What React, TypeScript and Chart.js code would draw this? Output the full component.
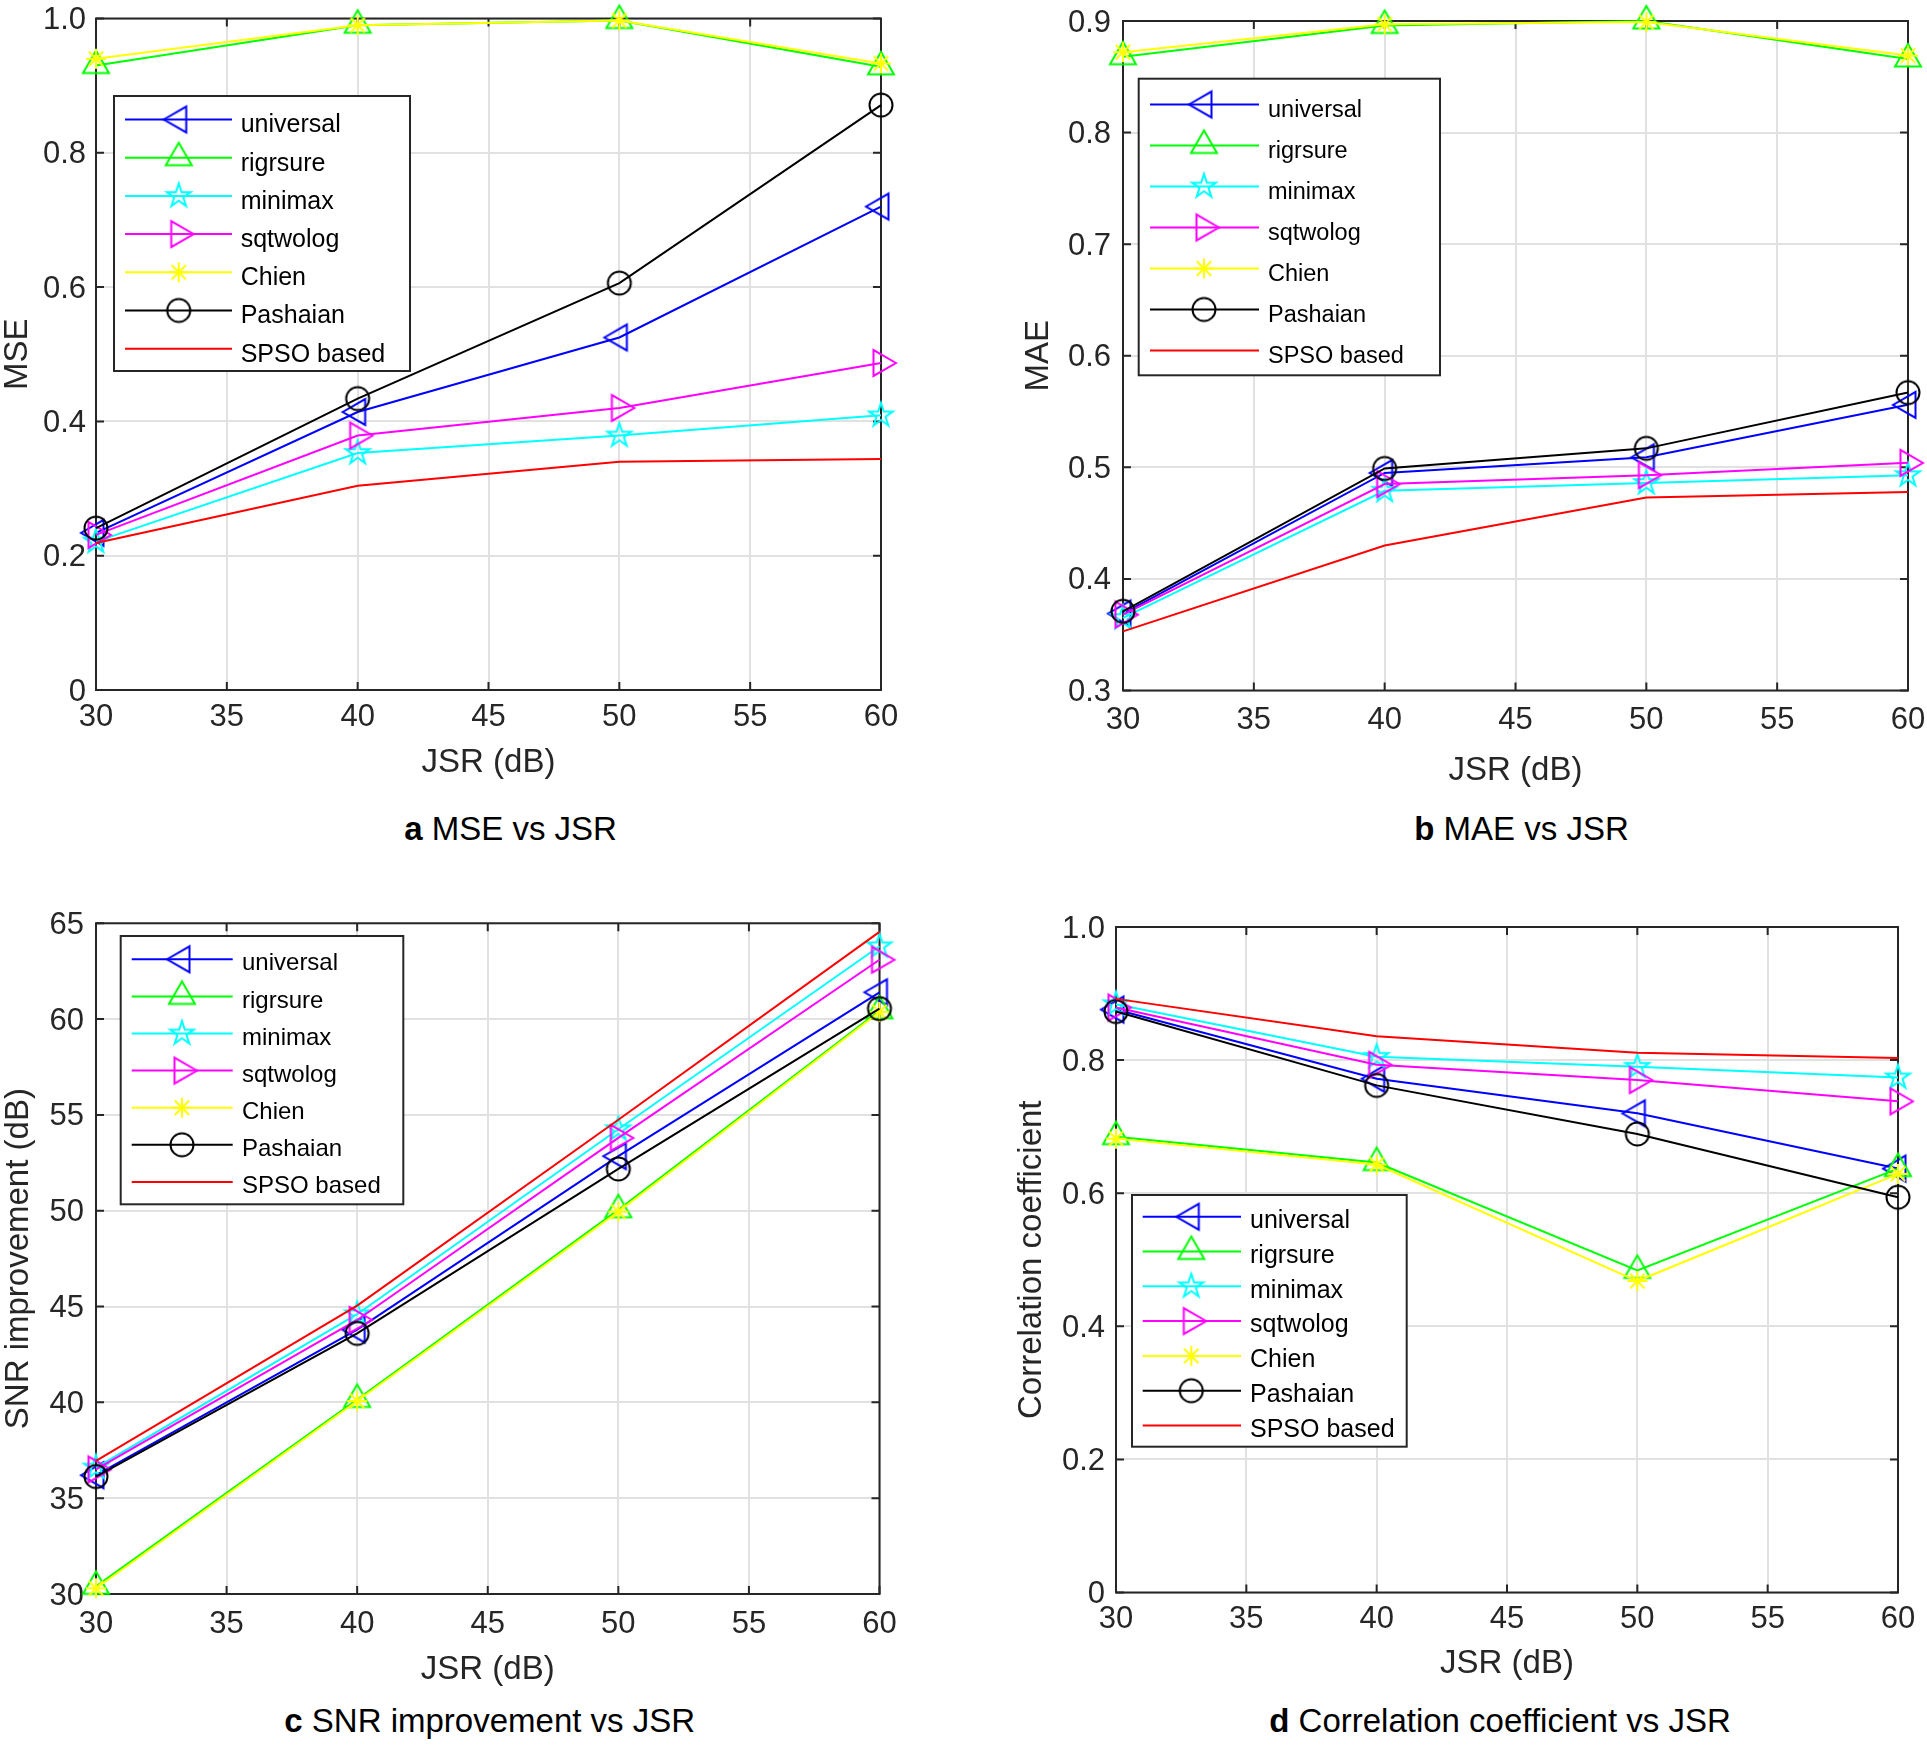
import React, { useEffect, useRef } from 'react';
import { Chart, registerables } from 'chart.js';

Chart.register(...registerables);

// ---------------- data ----------------
const jsr = [30, 40, 50, 60];
const jsrTicks = [30, 35, 40, 45, 50, 55, 60];
const jsrTickLabels = ['30', '35', '40', '45', '50', '55', '60'];

const seriesNames = ['universal', 'rigrsure', 'minimax', 'sqtwolog', 'Chien', 'Pashaian', 'SPSO based'];
const seriesColors = ['#0000ff', '#00ff00', '#00ffff', '#ff00ff', '#ffff00', '#000000', '#ff0000'];
const seriesMarkers = ['triLeft', 'triUp', 'pentagram', 'triRight', 'asterisk', 'circle', 'none'];

// (a) MSE
const mseUniversal = [0.234, 0.414, 0.525, 0.72];
const mseRigrsure = [0.93, 0.99, 0.997, 0.928];
const mseMinimax = [0.221, 0.353, 0.379, 0.409];
const mseSqtwolog = [0.231, 0.379, 0.42, 0.487];
const mseChien = [0.94, 0.99, 0.997, 0.933];
const msePashaian = [0.241, 0.434, 0.606, 0.871];
const mseSpso = [0.219, 0.304, 0.34, 0.344];
const mseTicks = [0, 0.2, 0.4, 0.6, 0.8, 1.0];
const mseTickLabels = ['0', '0.2', '0.4', '0.6', '0.8', '1.0'];

// (b) MAE
const maeUniversal = [0.369, 0.495, 0.509, 0.556];
const maeRigrsure = [0.868, 0.896, 0.9, 0.866];
const maeMinimax = [0.365, 0.479, 0.486, 0.493];
const maeSqtwolog = [0.368, 0.485, 0.493, 0.504];
const maeChien = [0.872, 0.897, 0.899, 0.869];
const maePashaian = [0.371, 0.499, 0.517, 0.567];
const maeSpso = [0.353, 0.43, 0.473, 0.478];
const maeTicks = [0.3, 0.4, 0.5, 0.6, 0.7, 0.8, 0.9];
const maeTickLabels = ['0.3', '0.4', '0.5', '0.6', '0.7', '0.8', '0.9'];

// (c) SNR improvement
const snrUniversal = [36.2, 43.8, 52.85, 61.4];
const snrRigrsure = [30.4, 40.15, 50.05, 60.43];
const snrMinimax = [36.6, 44.6, 54.25, 63.8];
const snrSqtwolog = [36.5, 44.3, 53.8, 63.1];
const snrChien = [30.3, 40.07, 49.95, 60.37];
const snrPashaian = [36.13, 43.6, 52.18, 60.55];
const snrSpso = [36.95, 45.05, 54.75, 64.55];
const snrTicks = [30, 35, 40, 45, 50, 55, 60, 65];
const snrTickLabels = ['30', '35', '40', '45', '50', '55', '60', '65'];

// (d) Correlation coefficient
const corrUniversal = [0.876, 0.772, 0.72, 0.637];
const corrRigrsure = [0.685, 0.646, 0.484, 0.637];
const corrMinimax = [0.884, 0.805, 0.79, 0.774];
const corrSqtwolog = [0.879, 0.793, 0.77, 0.738];
const corrChien = [0.682, 0.643, 0.468, 0.629];
const corrPashaian = [0.873, 0.762, 0.689, 0.594];
const corrSpso = [0.892, 0.836, 0.811, 0.803];
const corrTicks = [0, 0.2, 0.4, 0.6, 0.8, 1.0];
const corrTickLabels = ['0', '0.2', '0.4', '0.6', '0.8', '1.0'];

// ---------------- styling / layout ----------------
const FONT = '"Liberation Sans", Arial, Helvetica, sans-serif';
const AXIS_COLOR = '#262626';
const GRID_COLOR = '#e1e1e1';
const TICK_FONT = 31;
const TITLE_FONT = 33;

type Geo = {
  box: { x: number; y: number; w: number; h: number };
  plot: { l: number; t: number; r: number; b: number };
  yTitleX: number;
  xTitleY: number;
  xTickPad: number;
  yTickPad: number;
  legend: { l: number; t: number; r: number; b: number; row0: number; rowStep: number; x1: number; x2: number; mx: number; tx: number; font: number; dy: number };
};

type PanelCfg = {
  yTitle: string;
  series: number[][];
  yTicks: number[];
  yTickLabels: string[];
  geo: Geo;
};

const panels: PanelCfg[] = [
  {
    yTitle: 'MSE',
    series: [mseUniversal, mseRigrsure, mseMinimax, mseSqtwolog, mseChien, msePashaian, mseSpso],
    yTicks: mseTicks,
    yTickLabels: mseTickLabels,
    geo: {
      box: { x: 0, y: 0, w: 960, h: 800 },
      plot: { l: 96, t: 18.5, r: 881, b: 690 },
      yTitleX: 17.5,
      xTitleY: 762.5,
      xTickPad: 9,
      yTickPad: 10,
      legend: { l: 114, t: 96, r: 410, b: 371, row0: 119.5, rowStep: 38.2, x1: 125, x2: 232, mx: 178.7, tx: 240.7, font: 25, dy: 6 },
    },
  },
  {
    yTitle: 'MAE',
    series: [maeUniversal, maeRigrsure, maeMinimax, maeSqtwolog, maeChien, maePashaian, maeSpso],
    yTicks: maeTicks,
    yTickLabels: maeTickLabels,
    geo: {
      box: { x: 960, y: 0, w: 967, h: 800 },
      plot: { l: 1123, t: 21, r: 1908, b: 690.5 },
      yTitleX: 1039,
      xTitleY: 770.5,
      xTickPad: 11,
      yTickPad: 12,
      legend: { l: 1138.7, t: 78.7, r: 1440, b: 375.3, row0: 104.5, rowStep: 41, x1: 1150, x2: 1259, mx: 1204, tx: 1268, font: 23.5, dy: 6.5 },
    },
  },
  {
    yTitle: 'SNR improvement (dB)',
    series: [snrUniversal, snrRigrsure, snrMinimax, snrSqtwolog, snrChien, snrPashaian, snrSpso],
    yTicks: snrTicks,
    yTickLabels: snrTickLabels,
    geo: {
      box: { x: 0, y: 860, w: 960, h: 840 },
      plot: { l: 96, t: 923.3, r: 879.5, b: 1594 },
      yTitleX: 19,
      xTitleY: 1670,
      xTickPad: 11.5,
      yTickPad: 12,
      legend: { l: 120.7, t: 936, r: 403.3, b: 1204.3, row0: 959.3, rowStep: 37.1, x1: 131.7, x2: 232.7, mx: 182, tx: 242, font: 24, dy: 4.5 },
    },
  },
  {
    yTitle: 'Correlation coefficient',
    series: [corrUniversal, corrRigrsure, corrMinimax, corrSqtwolog, corrChien, corrPashaian, corrSpso],
    yTicks: corrTicks,
    yTickLabels: corrTickLabels,
    geo: {
      box: { x: 960, y: 860, w: 967, h: 840 },
      plot: { l: 1116, t: 927, r: 1898, b: 1592.5 },
      yTitleX: 1032,
      xTitleY: 1664,
      xTickPad: 8.5,
      yTickPad: 11,
      legend: { l: 1132, t: 1195, r: 1406.7, b: 1446.7, row0: 1216.7, rowStep: 34.8, x1: 1142.7, x2: 1241, mx: 1191.3, tx: 1250, font: 25, dy: 4.5 },
    },
  },
];

const captions = [
  { letter: 'a', text: ' MSE vs JSR', cx: 510.6, cy: 828 },
  { letter: 'b', text: ' MAE vs JSR', cx: 1521.5, cy: 828 },
  { letter: 'c', text: ' SNR improvement vs JSR', cx: 489.7, cy: 1720.5 },
  { letter: 'd', text: ' Correlation coefficient vs JSR', cx: 1500, cy: 1720.5 },
];

// ---------------- marker glyphs ----------------
function makeMarker(kind: string, color: string): HTMLCanvasElement | null {
  if (kind === 'none') return null;
  const S = 40;
  const c = document.createElement('canvas');
  c.width = S;
  c.height = S;
  const ctx = c.getContext('2d')!;
  const cx = S / 2;
  const cy = S / 2;
  ctx.strokeStyle = color;
  ctx.lineWidth = 2;
  ctx.lineJoin = 'miter';
  ctx.beginPath();
  const poly = (pts: number[][]) => {
    ctx.moveTo(pts[0][0], pts[0][1]);
    for (let i = 1; i < pts.length; i++) ctx.lineTo(pts[i][0], pts[i][1]);
    ctx.closePath();
  };
  const R = 15;
  const h = R * Math.sqrt(3) / 2;
  if (kind === 'triLeft') poly([[cx - R, cy], [cx + R / 2, cy - h], [cx + R / 2, cy + h]]);
  else if (kind === 'triRight') poly([[cx + R, cy], [cx - R / 2, cy - h], [cx - R / 2, cy + h]]);
  else if (kind === 'triUp') poly([[cx, cy - R], [cx - h, cy + R / 2], [cx + h, cy + R / 2]]);
  else if (kind === 'pentagram') {
    const Ro = 12.5;
    const Ri = Ro * 0.382;
    const pts: number[][] = [];
    for (let i = 0; i < 10; i++) {
      const a = -Math.PI / 2 + (i * Math.PI) / 5;
      const r = i % 2 === 0 ? Ro : Ri;
      pts.push([cx + r * Math.cos(a), cy + r * Math.sin(a)]);
    }
    poly(pts);
  } else if (kind === 'circle') {
    ctx.arc(cx, cy, 11.5, 0, Math.PI * 2);
  } else if (kind === 'asterisk') {
    const L = 10;
    const d = L * 0.72;
    ctx.moveTo(cx - L, cy); ctx.lineTo(cx + L, cy);
    ctx.moveTo(cx, cy - L); ctx.lineTo(cx, cy + L);
    ctx.moveTo(cx - d, cy - d); ctx.lineTo(cx + d, cy + d);
    ctx.moveTo(cx - d, cy + d); ctx.lineTo(cx + d, cy - d);
  }
  ctx.stroke();
  return c;
}

// ---------------- plugins ----------------
function framePlugin() {
  return {
    id: 'matlabFrame',
    beforeDatasetsDraw(chart: any) {
      const { ctx, chartArea: a, scales } = chart;
      const TL = 8;
      ctx.save();
      ctx.strokeStyle = AXIS_COLOR;
      ctx.lineWidth = 2;
      ctx.beginPath();
      for (const t of scales.x.ticks) {
        const px = scales.x.getPixelForValue(t.value);
        ctx.moveTo(px, a.bottom); ctx.lineTo(px, a.bottom - TL);
        ctx.moveTo(px, a.top); ctx.lineTo(px, a.top + TL);
      }
      for (const t of scales.y.ticks) {
        const py = scales.y.getPixelForValue(t.value);
        ctx.moveTo(a.left, py); ctx.lineTo(a.left + TL, py);
        ctx.moveTo(a.right, py); ctx.lineTo(a.right - TL, py);
      }
      ctx.stroke();
      ctx.strokeRect(a.left, a.top, a.right - a.left, a.bottom - a.top);
      ctx.restore();
    },
  };
}

function legendPlugin(geo: Geo, markers: (HTMLCanvasElement | null)[]) {
  return {
    id: 'matlabLegend',
    afterDraw(chart: any) {
      const { ctx } = chart;
      const L = geo.legend;
      const ox = geo.box.x;
      const oy = geo.box.y;
      ctx.save();
      ctx.fillStyle = '#ffffff';
      ctx.fillRect(L.l - ox, L.t - oy, L.r - L.l, L.b - L.t);
      ctx.strokeStyle = AXIS_COLOR;
      ctx.lineWidth = 2;
      ctx.strokeRect(L.l - ox, L.t - oy, L.r - L.l, L.b - L.t);
      ctx.font = `${L.font}px ${FONT}`;
      ctx.textBaseline = 'middle';
      ctx.textAlign = 'left';
      seriesNames.forEach((name, i) => {
        const y = L.row0 + i * L.rowStep - oy;
        ctx.strokeStyle = seriesColors[i];
        ctx.lineWidth = 2;
        ctx.beginPath();
        ctx.moveTo(L.x1 - ox, y);
        ctx.lineTo(L.x2 - ox, y);
        ctx.stroke();
        const m = markers[i];
        if (m) ctx.drawImage(m, L.mx - ox - m.width / 2, y - m.height / 2);
        ctx.fillStyle = '#000000';
        ctx.fillText(name, L.tx - ox, y + L.dy);
      });
      ctx.restore();
    },
  };
}

// ---------------- components ----------------
function Panel({ cfg }: { cfg: PanelCfg }) {
  const ref = useRef<HTMLCanvasElement>(null);
  const g = cfg.geo;
  useEffect(() => {
    const canvas = ref.current;
    if (!canvas) return;
    const markers = seriesMarkers.map((m, i) => makeMarker(m, seriesColors[i]));
    const titleHalf = TITLE_FONT / 2;
    const padT = g.plot.t - g.box.y;
    const padR = g.box.x + g.box.w - g.plot.r;
    const padL = g.yTitleX - g.box.x - titleHalf;
    const yAxisW = g.plot.l - g.box.x - padL;
    const xAxisH = g.box.y + g.box.h - g.plot.b;
    const xTitlePad = g.box.y + g.box.h - g.xTitleY - titleHalf;

    const datasets = seriesNames.map((name, i) => ({
      label: name,
      data: jsr.map((x, k) => ({ x, y: cfg.series[i][k] })),
      borderColor: seriesColors[i],
      backgroundColor: seriesColors[i],
      borderWidth: 2,
      tension: 0,
      pointStyle: markers[i] || 'circle',
      pointRadius: markers[i] ? 12 : 0,
      pointHoverRadius: markers[i] ? 12 : 0,
      clip: false as any,
      order: seriesNames.length - 1 - i,
    }));

    const chart = new Chart(canvas, {
      type: 'line',
      data: { datasets },
      options: {
        animation: false,
        responsive: false,
        devicePixelRatio: 1,
        events: [],
        layout: { autoPadding: false, padding: { left: padL, top: padT, right: padR, bottom: 0 } },
        plugins: { legend: { display: false }, tooltip: { enabled: false }, title: { display: false } },
        scales: {
          x: {
            type: 'linear',
            min: 30,
            max: 60,
            afterBuildTicks: (s: any) => { s.ticks = jsrTicks.map((v) => ({ value: v })); },
            afterFit: (s: any) => {
              s.height = xAxisH;
              s.paddingLeft = 0; s.paddingRight = 0; s.paddingTop = 0; s.paddingBottom = 0;
            },
            ticks: {
              padding: g.xTickPad,
              autoSkip: false,
              maxRotation: 0,
              color: AXIS_COLOR,
              font: { family: FONT, size: TICK_FONT },
              callback: (_v: any, i: number) => jsrTickLabels[i],
            },
            grid: { color: GRID_COLOR, lineWidth: 2, drawTicks: false },
            border: { display: false },
            title: {
              display: true,
              text: 'JSR (dB)',
              color: AXIS_COLOR,
              font: { family: FONT, size: TITLE_FONT, lineHeight: 1 },
              padding: { top: 0, bottom: xTitlePad },
            },
          },
          y: {
            type: 'linear',
            min: cfg.yTicks[0],
            max: cfg.yTicks[cfg.yTicks.length - 1],
            afterBuildTicks: (s: any) => { s.ticks = cfg.yTicks.map((v) => ({ value: v })); },
            afterFit: (s: any) => {
              s.width = yAxisW;
              s.paddingLeft = 0; s.paddingRight = 0; s.paddingTop = 0; s.paddingBottom = 0;
            },
            ticks: {
              padding: g.yTickPad,
              labelOffset: 2,
              autoSkip: false,
              color: AXIS_COLOR,
              font: { family: FONT, size: TICK_FONT },
              callback: (_v: any, i: number) => cfg.yTickLabels[i],
            },
            grid: { color: GRID_COLOR, lineWidth: 2, drawTicks: false },
            border: { display: false },
            title: {
              display: true,
              text: cfg.yTitle,
              color: AXIS_COLOR,
              font: { family: FONT, size: TITLE_FONT, lineHeight: 1 },
              padding: { top: 0, bottom: 0 },
            },
          },
        },
      },
      plugins: [framePlugin(), legendPlugin(g, markers)],
    } as any);
    return () => chart.destroy();
  }, []);
  return (
    <canvas
      ref={ref}
      width={g.box.w}
      height={g.box.h}
      style={{ position: 'absolute', left: g.box.x, top: g.box.y, width: g.box.w, height: g.box.h }}
    />
  );
}

export default function App() {
  return (
    <div style={{ position: 'absolute', left: 0, top: 0, width: 1927, height: 1745, background: '#ffffff', overflow: 'hidden' }}>
      {panels.map((p, i) => (
        <Panel key={i} cfg={p} />
      ))}
      {captions.map((c, i) => (
        <div
          key={'cap' + i}
          style={{
            position: 'absolute',
            left: c.cx - 500,
            width: 1000,
            top: c.cy - TITLE_FONT / 2,
            lineHeight: `${TITLE_FONT}px`,
            fontSize: TITLE_FONT,
            fontFamily: FONT,
            color: '#000000',
            textAlign: 'center',
            whiteSpace: 'nowrap',
          }}
        >
          <b>{c.letter}</b>
          {c.text}
        </div>
      ))}
    </div>
  );
}
